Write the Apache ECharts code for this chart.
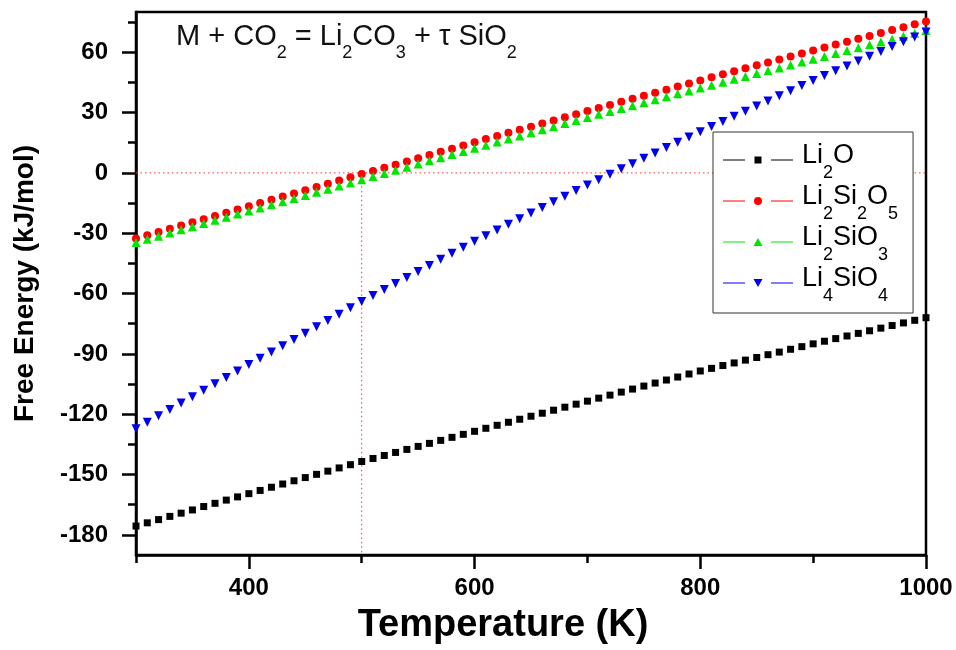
<!DOCTYPE html>
<html>
<head>
<meta charset="utf-8">
<script src="https://cdn.jsdelivr.net/npm/echarts@6/dist/echarts.min.js"></script>
<style>
  html, body { margin: 0; padding: 0; background: #fff; }
  #chart { width: 956px; height: 650px; }
</style>
</head>
<body>
<div id="chart"></div>
<script>
// Temperature (K), one point every 10 K
const temperature = [
  300, 310, 320, 330, 340, 350, 360, 370, 380, 390,
  400, 410, 420, 430, 440, 450, 460, 470, 480, 490,
  500, 510, 520, 530, 540, 550, 560, 570, 580, 590,
  600, 610, 620, 630, 640, 650, 660, 670, 680, 690,
  700, 710, 720, 730, 740, 750, 760, 770, 780, 790,
  800, 810, 820, 830, 840, 850, 860, 870, 880, 890,
  900, 910, 920, 930, 940, 950, 960, 970, 980, 990,
  1000
]

// Free energy (kJ/mol)
const li2o = [
  -175.6, -174.0, -172.4, -170.8, -169.2, -167.6, -165.9, -164.3, -162.7, -161.1,
  -159.5, -157.9, -156.3, -154.7, -153.1, -151.5, -149.9, -148.3, -146.7, -145.1,
  -143.5, -142.0, -140.5, -139.0, -137.5, -136.0, -134.5, -133.0, -131.5, -130.0,
  -128.5, -127.0, -125.5, -124.0, -122.5, -121.0, -119.5, -118.0, -116.5, -115.0,
  -113.5, -112.0, -110.5, -109.0, -107.5, -106.0, -104.5, -103.0, -101.5, -100.0,
  -98.5, -97.2, -95.8, -94.5, -93.1, -91.8, -90.4, -89.1, -87.7, -86.4,
  -85.0, -83.7, -82.4, -81.1, -79.8, -78.5, -77.2, -75.9, -74.6, -73.3,
  -72.0
]
const li2si2o5 = [
  -32.6, -31.0, -29.4, -27.8, -26.2, -24.6, -23.0, -21.4, -19.8, -18.2,
  -16.6, -15.0, -13.4, -11.8, -10.2, -8.6, -7.0, -5.4, -3.8, -2.2,
  -0.6, 1.0, 2.6, 4.1, 5.7, 7.3, 8.9, 10.5, 12.0, 13.6,
  15.2, 16.8, 18.3, 19.9, 21.4, 23.0, 24.6, 26.1, 27.7, 29.2,
  30.8, 32.3, 33.8, 35.4, 36.9, 38.4, 39.9, 41.4, 43.0, 44.5,
  46.0, 47.5, 49.0, 50.5, 52.0, 53.5, 54.9, 56.4, 57.9, 59.4,
  60.9, 62.3, 63.8, 65.2, 66.7, 68.1, 69.5, 71.0, 72.4, 73.9,
  75.3
]
const li2sio3 = [
  -34.6, -33.0, -31.5, -29.9, -28.3, -26.8, -25.2, -23.6, -22.0, -20.5,
  -18.9, -17.4, -15.8, -14.3, -12.7, -11.2, -9.6, -8.1, -6.5, -5.0,
  -3.4, -1.8, -0.3, 1.3, 2.8, 4.4, 6.0, 7.5, 9.1, 10.6,
  12.2, 13.7, 15.3, 16.8, 18.4, 19.9, 21.4, 23.0, 24.5, 26.1,
  27.6, 29.1, 30.5, 32.0, 33.4, 34.9, 36.4, 37.8, 39.3, 40.7,
  42.2, 43.6, 45.1, 46.5, 47.9, 49.4, 50.8, 52.2, 53.6, 55.1,
  56.5, 57.9, 59.4, 60.8, 62.2, 63.7, 65.1, 66.5, 67.9, 69.4,
  70.8
]
const li4sio4 = [
  -127.2, -124.0, -120.8, -117.6, -114.4, -111.3, -108.1, -104.9, -101.7, -98.5,
  -95.3, -92.2, -89.0, -85.9, -82.8, -79.7, -76.5, -73.4, -70.3, -67.1,
  -64.0, -61.0, -58.0, -55.0, -52.0, -49.0, -46.0, -43.0, -40.0, -37.0,
  -34.0, -31.2, -28.4, -25.6, -22.8, -20.0, -17.2, -14.4, -11.6, -8.8,
  -6.0, -3.4, -0.7, 2.0, 4.6, 7.3, 9.9, 12.6, 15.2, 17.9,
  20.5, 23.1, 25.6, 28.2, 30.7, 33.3, 35.8, 38.4, 40.9, 43.5,
  46.0, 48.4, 50.8, 53.2, 55.6, 58.0, 60.4, 62.8, 65.2, 67.6,
  70.0
]

// red dotted guides: zero line and 500 K drop line
const zeroLine = [[300, 0], [1000, 0]]
const dropLine = [[500, 0], [500, -190]]

const xMajorTicks = [400, 600, 800, 1000]
const xMinorTicks = [300, 500, 700, 900]
const yMajorTicks = [-180, -150, -120, -90, -60, -30, 0, 30, 60]
const yMinorTicks = [-165, -135, -105, -75, -45, -15, 15, 45, 75]

const FONT = '"Liberation Sans", Arial, sans-serif'

// legend icons: thin line - marker - thin line (same 70x9 box for all)
const seg = 'M0 0 L0 0 Z M70 9 L70 9 Z M0 4 L22 4 L22 5 L0 5 Z M48 4 L70 4 L70 5 L48 5 Z '
const icons = {
  rect: 'path://' + seg + 'M31.5 1 L38.5 1 L38.5 8 L31.5 8 Z',
  circle: 'path://' + seg + 'M31 4.5 A4 4 0 1 0 39 4.5 A4 4 0 1 0 31 4.5 Z',
  up: 'path://' + seg + 'M35 0.5 L39.5 8.5 L30.5 8.5 Z',
  down: 'path://' + seg + 'M30.5 0.5 L39.5 0.5 L35 8.5 Z'
}

// text with subscripts
const richText = {
  n: { fontFamily: FONT, fontSize: 27, fontWeight: 'normal', lineHeight: 36, verticalAlign: 'top', color: '#000' },
  s: { fontFamily: FONT, fontSize: 18, fontWeight: 'normal', lineHeight: 18, verticalAlign: 'top', padding: [22, 0, 0, 0], color: '#000' }
}
function subscript(name) {
  return '{n|' + name.replace(/(\d)/g, '}{s|$1}{n|') + '}'
}

function pairs(values) {
  return temperature.map((t, i) => [t, values[i]])
}

const chart = echarts.init(document.getElementById('chart'))

const tickLabel = {
  fontFamily: FONT,
  fontSize: 24,
  fontWeight: 'bold',
  color: '#000',
  formatter: (v) => String(v)
}

function markerSeries(name, values, symbol, size, color, rotate) {
  return {
    name: name,
    type: 'line',
    data: pairs(values),
    symbol: symbol,
    symbolSize: size,
    symbolRotate: rotate || 0,
    showAllSymbol: true,
    itemStyle: { color: color },
    lineStyle: { opacity: 0 },
    emphasis: { disabled: true }
  }
}

function guideSeries(data) {
  return {
    type: 'line',
    data: data,
    symbol: 'none',
    silent: true,
    lineStyle: { color: '#ff3333', type: [1.5, 3], width: 1 },
    emphasis: { disabled: true }
  }
}

chart.setOption({
  animation: false,
  backgroundColor: '#fff',
  title: {
    text: '{n|M + CO}{s|2}{n| = Li}{s|2}{n|CO}{s|3}{n| + τ SiO}{s|2}',
    left: 176,
    top: 22,
    padding: 0,
    textStyle: {
      fontWeight: 'normal',
      rich: {
        n: { fontFamily: FONT, fontSize: 29, fontWeight: 'normal', lineHeight: 36, verticalAlign: 'top', color: '#111' },
        s: { fontFamily: FONT, fontSize: 18, fontWeight: 'normal', lineHeight: 18, verticalAlign: 'top', padding: [22, 0, 0, 0], color: '#111' }
      }
    }
  },
  grid: {
    left: 136,
    right: 30,
    top: 12,
    bottom: 92,
    show: true,
    borderColor: '#000',
    borderWidth: 2.5,
    backgroundColor: 'transparent'
  },
  legend: {
    orient: 'vertical',
    left: 713,
    top: 132,
    padding: [10, 15, 8, 10],
    itemGap: 1,
    itemWidth: 70,
    itemHeight: 9,
    backgroundColor: '#fff',
    borderColor: '#333',
    borderWidth: 1,
    borderRadius: 0,
    formatter: subscript,
    textStyle: { rich: richText, padding: [0, 0, 0, 4] },
    data: [
      { name: 'Li2O', icon: icons.rect },
      { name: 'Li2Si2O5', icon: icons.circle },
      { name: 'Li2SiO3', icon: icons.up },
      { name: 'Li4SiO4', icon: icons.down }
    ]
  },
  xAxis: [
    {
      type: 'value',
      min: 300,
      max: 1000,
      name: 'Temperature (K)',
      nameLocation: 'middle',
      nameGap: 52,
      nameTextStyle: { fontFamily: FONT, fontSize: 38, fontWeight: 'bold', color: '#000', padding: [0, 56, 0, 0] },
      axisLine: { onZero: false, lineStyle: { color: '#000', width: 2.5 } },
      axisTick: { customValues: xMajorTicks, length: 14, lineStyle: { color: '#000', width: 2.5 } },
      axisLabel: Object.assign({ customValues: xMajorTicks, margin: 21 }, tickLabel),
      splitLine: { show: false }
    },
    {
      // minor ticks only
      type: 'value',
      min: 300,
      max: 1000,
      position: 'bottom',
      axisLine: { show: false, onZero: false },
      axisTick: { customValues: xMinorTicks, length: 8, lineStyle: { color: '#000', width: 2.5 } },
      axisLabel: { show: false },
      splitLine: { show: false }
    }
  ],
  yAxis: [
    {
      type: 'value',
      min: -190,
      max: 80,
      name: 'Free Energy (kJ/mol)',
      nameLocation: 'middle',
      nameRotate: 90,
      nameGap: 97,
      nameTextStyle: { fontFamily: FONT, fontSize: 28, fontWeight: 'bold', color: '#000' },
      axisLine: { onZero: false, lineStyle: { color: '#000', width: 2.5 } },
      axisTick: { customValues: yMajorTicks, length: 14, lineStyle: { color: '#000', width: 2.5 } },
      axisLabel: Object.assign({ customValues: yMajorTicks, margin: 28 }, tickLabel),
      splitLine: { show: false }
    },
    {
      // minor ticks only
      type: 'value',
      min: -190,
      max: 80,
      position: 'left',
      axisLine: { show: false, onZero: false },
      axisTick: { customValues: yMinorTicks, length: 8, lineStyle: { color: '#000', width: 2.5 } },
      axisLabel: { show: false },
      splitLine: { show: false }
    }
  ],
  series: [
    guideSeries(zeroLine),
    guideSeries(dropLine),
    markerSeries('Li2O', li2o, 'rect', 7, '#000'),
    markerSeries('Li2Si2O5', li2si2o5, 'circle', 8, '#ff0000'),
    markerSeries('Li2SiO3', li2sio3, 'triangle', 9, '#00e600'),
    markerSeries('Li4SiO4', li4sio4, 'triangle', 9, '#0000ee', 180)
  ]
})
</script>
</body>
</html>
